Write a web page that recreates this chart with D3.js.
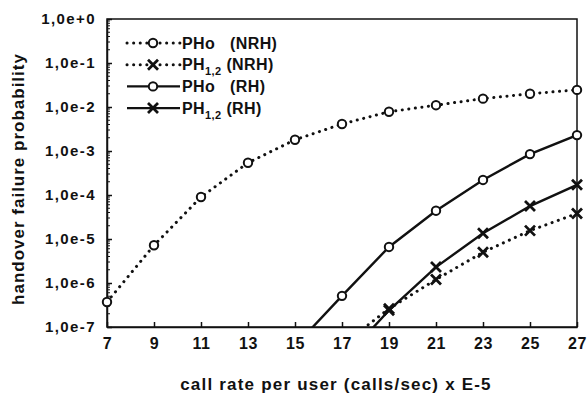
<!DOCTYPE html>
<meta charset="utf-8">
<script src="https://d3js.org/d3.v7.min.js"></script>
<style>
  body { margin: 0; background: #fff; }
  text { font-family: Arial, "Liberation Sans", sans-serif; font-weight: bold; fill: #111; }
</style>
<div id="my_dataviz"></div>
<script>

// call rate per user (x E-5)
var rates = [7, 9, 11, 13, 15, 17, 19, 21, 23, 25, 27];
var xTicks = [7, 9, 11, 13, 15, 17, 19, 21, 23, 25, 27];
var yTicks = [1e-7, 1e-6, 1e-5, 1e-4, 1e-3, 1e-2, 1e-1, 1];
var yTickLabels = ["1,0e-7", "1,0e-6", "1,0e-5", "1,0e-4", "1,0e-3", "1,0e-2", "1,0e-1", "1,0e+0"];

// handover failure probability per series (null = no point)
var phoNRH  = [3.7e-7, 7.2e-6, 9.0e-5, 5.4e-4, 1.8e-3, 4.1e-3, 7.8e-3, 1.1e-2, 1.55e-2, 2.0e-2, 2.45e-2];
var ph12NRH = [null, null, null, null, null, 3.9e-8, 2.6e-7, 1.2e-6, 5.0e-6, 1.55e-5, 3.8e-5];
var phoRH   = [null, null, null, null, 3.7e-8, 5.1e-7, 6.6e-6, 4.4e-5, 2.2e-4, 8.5e-4, 2.3e-3];
var ph12RH  = [null, null, null, null, null, 1.65e-8, 2.4e-7, 2.3e-6, 1.35e-5, 5.6e-5, 1.7e-4];

var series = [
  {name: "PHo", sub: "", tag: "(NRH)", values: phoNRH, dotted: true, marker: "circle"},
  {name: "PH", sub: "1,2", tag: "(NRH)", values: ph12NRH, dotted: true, marker: "cross"},
  {name: "PHo", sub: "", tag: "(RH)", values: phoRH, dotted: false, marker: "circle"},
  {name: "PH", sub: "1,2", tag: "(RH)", values: ph12RH, dotted: false, marker: "cross"}
];

var W = 587, H = 395;
var margin = {top: 19, right: 10, bottom: 68, left: 107};
var width = W - margin.left - margin.right,
    height = H - margin.top - margin.bottom;

var svg = d3.select("#my_dataviz")
  .append("svg")
    .attr("width", W)
    .attr("height", H)
  .append("g")
    .attr("transform", "translate(" + margin.left + "," + margin.top + ")");

var x = d3.scaleLinear().domain([7, 27]).range([0, width]);
var y = d3.scaleLog().domain([1e-7, 1]).range([height, 0]);

// clip for the lines
svg.append("clipPath").attr("id", "clip")
  .append("rect").attr("width", width).attr("height", height);

// frame
svg.append("rect")
  .attr("width", width).attr("height", height)
  .attr("fill", "none").attr("stroke", "#111").attr("stroke-width", 1.5);

// minor log ticks on left axis (inside)
var minor = [];
for (var e = -7; e < 0; e++) {
  for (var m = 2; m <= 9; m++) minor.push(m * Math.pow(10, e));
}
svg.append("g").selectAll("line")
  .data(minor).enter().append("line")
    .attr("x1", 0).attr("x2", 3)
    .attr("y1", function(d) { return y(d); })
    .attr("y2", function(d) { return y(d); })
    .attr("stroke", "#111").attr("stroke-width", 1);

// left axis
var yAxis = svg.append("g")
  .call(d3.axisLeft(y).tickValues(yTicks)
    .tickFormat(function(d, i) { return yTickLabels[i]; })
    .tickSizeInner(-5).tickSizeOuter(0).tickPadding(11));
yAxis.select(".domain").attr("stroke", "#111").attr("stroke-width", 1.5);
yAxis.selectAll(".tick line").attr("stroke", "#111").attr("stroke-width", 1.5);
yAxis.selectAll("text")
  .style("font-size", "15px").style("letter-spacing", "1.4px")
  .attr("font-family", null).attr("fill", "#111");

// bottom axis
var xAxis = svg.append("g")
  .attr("transform", "translate(0," + height + ")")
  .call(d3.axisBottom(x).tickValues(xTicks)
    .tickSizeInner(-5).tickSizeOuter(0).tickPadding(11));
xAxis.select(".domain").attr("stroke", "#111").attr("stroke-width", 1.5);
xAxis.selectAll(".tick line").attr("stroke", "#111").attr("stroke-width", 1.5);
xAxis.selectAll("text")
  .style("font-size", "16px").style("letter-spacing", "0.5px")
  .attr("font-family", null).attr("fill", "#111");

// axis titles
svg.append("text")
  .attr("x", width / 2 - 6)
  .attr("y", height + 63)
  .attr("text-anchor", "middle")
  .style("font-size", "17px").style("letter-spacing", "1.2px")
  .text("call rate per user (calls/sec) x E-5");

svg.append("text")
  .attr("transform", "translate(" + (-83) + "," + (height / 2 + 6) + ") rotate(-90)")
  .attr("text-anchor", "middle")
  .style("font-size", "17px").style("letter-spacing", "1px")
  .text("handover failure probability");

// lines
var line = d3.line()
  .defined(function(d) { return d.v !== null; })
  .x(function(d) { return x(d.r); })
  .y(function(d) { return y(d.v); });

function pts(s) {
  return rates.map(function(r, i) { return {r: r, v: s.values[i]}; });
}

function drawMarker(g, kind, cx, cy) {
  if (kind === "circle") {
    g.append("circle")
      .attr("cx", cx).attr("cy", cy).attr("r", 4.2)
      .attr("fill", "#fff").attr("stroke", "#111").attr("stroke-width", 2);
  } else {
    var s = 5;
    g.append("path")
      .attr("d", "M" + (cx - s) + "," + (cy - s) + "L" + (cx + s) + "," + (cy + s) +
                 "M" + (cx - s) + "," + (cy + s) + "L" + (cx + s) + "," + (cy - s))
      .attr("stroke", "#111").attr("stroke-width", 2.8).attr("fill", "none");
  }
}

series.forEach(function(s) {
  svg.append("path")
    .datum(pts(s))
    .attr("clip-path", "url(#clip)")
    .attr("fill", "none")
    .attr("stroke", "#111")
    .attr("stroke-width", s.dotted ? 3 : 2.4)
    .attr("stroke-linecap", s.dotted ? "round" : "butt")
    .attr("stroke-dasharray", s.dotted ? "0.1,6.5" : null)
    .attr("d", line);
});

series.forEach(function(s) {
  var g = svg.append("g");
  pts(s).forEach(function(d) {
    if (d.v !== null && d.v >= 1e-7) drawMarker(g, s.marker, x(d.r), y(d.v));
  });
});

// legend
var legend = svg.append("g").attr("transform", "translate(20,24)");
series.forEach(function(s, i) {
  var gy = i * 21.7;
  var g = legend.append("g").attr("transform", "translate(0," + gy + ")");
  g.append("line")
    .attr("x1", 0).attr("x2", 53).attr("y1", 0).attr("y2", 0)
    .attr("stroke", "#111")
    .attr("stroke-width", s.dotted ? 3 : 2.4)
    .attr("stroke-linecap", s.dotted ? "round" : "butt")
    .attr("stroke-dasharray", s.dotted ? "0.1,6.5" : null);
  drawMarker(g, s.marker, 26, 0);
  var t = g.append("text").attr("x", 55).attr("y", 5.5)
    .style("font-size", "16px").style("letter-spacing", "0.4px");
  t.append("tspan").text(s.name);
  if (s.sub) {
    t.append("tspan").attr("dy", 5).style("font-size", "11px").text(s.sub);
    t.append("tspan").attr("dy", -5).text(" " + s.tag);
  } else {
    g.append("text").attr("x", 103).attr("y", 5.5)
      .style("font-size", "16px").style("letter-spacing", "0.4px").text(s.tag);
  }
});

</script>
